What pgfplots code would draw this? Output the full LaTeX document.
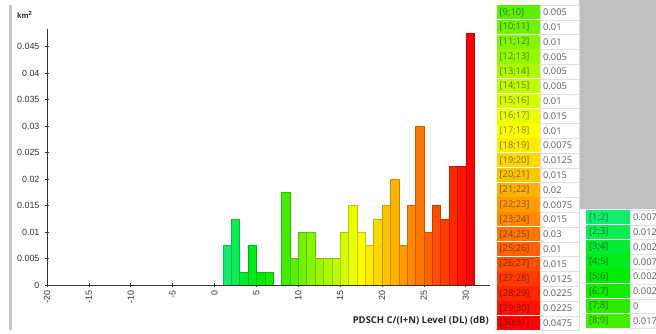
\documentclass[border=0pt]{standalone}
\usepackage[rgb]{xcolor}
\usepackage{pgfplots}
\pgfplotsset{compat=1.18}
\usepackage{fontspec}
\setmainfont{Liberation Sans}
\newfontfamily\seg{Open Sans}
\definecolor{c1}{Hsb}{145,0.92,0.93}
\definecolor{c2}{Hsb}{139,0.95,0.93}
\definecolor{c3}{Hsb}{133,1,0.92}
\definecolor{c4}{Hsb}{127,1,0.92}
\definecolor{c5}{Hsb}{121,1,0.92}
\definecolor{c6}{Hsb}{115,1,0.92}
\definecolor{c7}{Hsb}{109,1,0.92}
\definecolor{c8}{Hsb}{103,1,0.93}
\definecolor{c9}{Hsb}{97,1,0.94}
\definecolor{c10}{Hsb}{92,1,0.95}
\definecolor{c11}{Hsb}{88,1,0.96}
\definecolor{c12}{Hsb}{83,1,0.97}
\definecolor{c13}{Hsb}{78.5,1,0.98}
\definecolor{c14}{Hsb}{74,1,0.98}
\definecolor{c15}{Hsb}{69,1,0.99}
\definecolor{c16}{Hsb}{65,1,1}
\definecolor{c17}{Hsb}{60,1,1}
\definecolor{c18}{Hsb}{55.4,1,1}
\definecolor{c19}{Hsb}{50.8,1,1}
\definecolor{c20}{Hsb}{46.2,1,1}
\definecolor{c21}{Hsb}{41.6,1,1}
\definecolor{c22}{Hsb}{37,1,1}
\definecolor{c23}{Hsb}{32.4,1,1}
\definecolor{c24}{Hsb}{27.7,1,1}
\definecolor{c25}{Hsb}{23.1,1,1}
\definecolor{c26}{Hsb}{18.5,1,1}
\definecolor{c27}{Hsb}{13.9,1,1}
\definecolor{c28}{Hsb}{9.2,1,1}
\definecolor{c29}{Hsb}{4.6,1,1}
\definecolor{c30}{Hsb}{0,1,1}
\newcommand\hb[2]{\addplot[ybar, bar shift=0pt, bar width=1, fill=c#1, draw=c#1!78!black, line width=0.4pt, forget plot] coordinates {(#1.5,#2)};}
\begin{document}
\begin{tikzpicture}
\useasboundingbox (0bp,0bp) rectangle (656bp,334bp);
\begin{scope}[x=1bp,y=1bp]
\fill[black!25] (579,334) rectangle (656,125);
\fill[black!22] (8.5,4) rectangle (11.5,329);
\end{scope}
\begin{axis}[at={(47bp,49bp)}, anchor=south west, scale only axis,
  width=443bp, height=256bp,
  xmin=-20, xmax=32.9, ymin=0, ymax=0.0483,
  axis x line=bottom, axis y line=left,
  axis line style={-, black!80, line width=0.9pt},
  xtick={-20,-15,-10,-5,0,5,10,15,20,25,30},
  ytick={0,0.005,0.01,0.015,0.02,0.025,0.03,0.035,0.04,0.045},
  scaled y ticks=false,
  tick align=center, major tick length=4bp,
  tick style={black!80, line width=0.6pt},
  /pgf/number format/assume math mode=true,
  yticklabel style={/pgf/number format/fixed, /pgf/number format/precision=4, font=\fontsize{9}{10}\selectfont, text=black!80, xshift=-2bp},
  xticklabel style={rotate=90, anchor=east, font=\fontsize{9}{10}\selectfont, text=black!80},
]
\hb{1}{0.0075}
\hb{2}{0.0125}
\hb{3}{0.0025}
\hb{4}{0.0075}
\hb{5}{0.0025}
\hb{6}{0.0025}
\hb{8}{0.0175}
\hb{9}{0.005}
\hb{10}{0.01}
\hb{11}{0.01}
\hb{12}{0.005}
\hb{13}{0.005}
\hb{14}{0.005}
\hb{15}{0.01}
\hb{16}{0.015}
\hb{17}{0.01}
\hb{18}{0.0075}
\hb{19}{0.0125}
\hb{20}{0.015}
\hb{21}{0.02}
\hb{22}{0.0075}
\hb{23}{0.015}
\hb{24}{0.03}
\hb{25}{0.01}
\hb{26}{0.015}
\hb{27}{0.0125}
\hb{28}{0.0225}
\hb{29}{0.0225}
\hb{30}{0.0475}
\end{axis}
\begin{scope}[x=1bp,y=1bp]
\node[anchor=east, font=\seg\bfseries\fontsize{9.5}{11}\selectfont, text=black!85, inner sep=0] at (489,13) {PDSCH C/(I+N) Level (DL) (dB)};
\node[anchor=west, font=\bfseries\fontsize{8}{9}\selectfont, text=black!85, inner sep=0] at (17,319) {km\textsuperscript{2}};
\foreach \i/\v in {9/0.005,10/0.01,11/0.01,12/0.005,13/0.005,14/0.005,15/0.01,16/0.015,17/0.01,18/0.0075,19/0.0125,20/0.015,21/0.02,22/0.0075,23/0.015,24/0.03,25/0.01,26/0.015,27/0.0125,28/0.0225,29/0.0225,30/0.0475}{
  \pgfmathsetmacro\yt{334-5-14.8*(\i-9)}
  \fill[c\i] (497,\yt-14.3) rectangle (540,\yt);
  \draw[black!12, fill=white] (540.5,\yt-14.8) rectangle (579,\yt);
  \node[anchor=west, text=c\i!50!black, font=\seg\fontsize{9.3}{10}\selectfont, inner sep=0] at (499.5,\yt-7.4) {[\i;\the\numexpr\i+1\relax]};
  \node[anchor=west, text=black!65, font=\seg\fontsize{9.3}{10}\selectfont, inner sep=0] at (543,\yt-7.4) {\v};
}
\foreach \i/\v in {1/0.0075,2/0.0125,3/0.0025,4/0.0075,5/0.0025,6/0.0025,7/0,8/0.0175}{
  \pgfmathsetmacro\yt{334-210-14.8*(\i-1)}
  \fill[c\i] (586,\yt-14.3) rectangle (630,\yt);
  \draw[black!12, fill=white] (630.5,\yt-14.8) rectangle (660,\yt);
  \node[anchor=west, text=c\i!50!black, font=\seg\fontsize{9.3}{10}\selectfont, inner sep=0] at (589,\yt-7.4) {[\i;\the\numexpr\i+1\relax]};
  \node[anchor=west, text=black!65, font=\seg\fontsize{9.3}{10}\selectfont, inner sep=0] at (633,\yt-7.4) {\v};
}
\end{scope}
\end{tikzpicture}
\end{document}
